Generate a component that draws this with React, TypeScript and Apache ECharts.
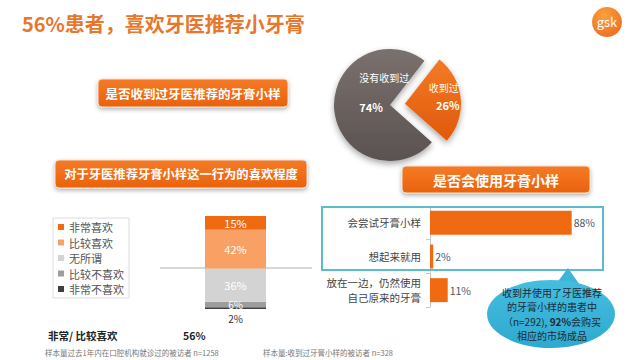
import React, { useEffect, useRef } from 'react';
import * as echarts from 'echarts';

const FONT = '"Noto Sans CJK SC", "Noto Sans", sans-serif';

const titleText = '56%患者，喜欢牙医推荐小牙膏';

const pieNames = ['收到过', '没有收到过'];
const pieValues = [26, 74];

const likeNames = ['非常喜欢', '比较喜欢', '无所谓', '比较不喜欢', '非常不喜欢'];
const likeValues = [15, 42, 36, 6, 2];
const likeColors = ['#f06a12', '#f9a064', '#d3d3d3', '#9d9d9d', '#3f3f3f'];
const likeCategory = ['喜欢程度'];

const useCategories = ['会尝试牙膏小样', '想起来就用', '放在一边，仍然使用\n自己原来的牙膏'];
const useValues = [88, 2, 11];

const summaryLabel = '非常/ 比较喜欢';
const summaryValue = '56%';

const button1 = '是否收到过牙医推荐的牙膏小样';
const button2 = '对于牙医推荐牙膏小样这一行为的喜欢程度';
const button3 = '是否会使用牙膏小样';

const footLeft = '样本量过去1年内在口腔机构就诊过的被访者 n=1258';
const footRight = '样本量:收到过牙膏小样的被访者 n=328';

const calloutLines = ['收到并使用了牙医推荐', '的牙膏小样的患者中', '{a|（n=292), }{b|92%}{a|会购买}', '相应的市场成品'];

const ORANGE = '#f06a12';

function button(x: number, y: number, w: number, h: number, text: string, fs: number) {
  return [
    {
      type: 'rect',
      shape: { x, y, width: w, height: h, r: 4 },
      style: {
        fill: new echarts.graphic.LinearGradient(0, 0, 0, 1, [
          { offset: 0, color: '#f57a26' },
          { offset: 1, color: '#ea620c' },
        ]),
        stroke: '#f3e3d6',
        lineWidth: 1,
        shadowBlur: 4,
        shadowOffsetY: 2,
        shadowColor: 'rgba(0,0,0,0.3)',
      },
      z: 5,
    },
    {
      type: 'text',
      x: x + w / 2,
      y: y + h / 2,
      style: {
        text,
        fill: '#fff',
        font: `bold ${fs}px ${FONT}`,
        align: 'center',
        verticalAlign: 'middle',
      },
      z: 6,
    },
  ];
}

export default function App() {
  const ref = useRef<HTMLDivElement>(null);

  useEffect(() => {
    if (!ref.current) return;
    const chart = echarts.init(ref.current, null, { renderer: 'svg' });

    const pieLabelShift: Record<number, [number, number]> = { 0: [10, -4.5], 1: [18.5, -15.5] };

    const pieData = pieNames.map((name, i) => {
      const isOrange = i === 0;
      return {
        name,
        value: pieValues[i],
        selected: isOrange,
        itemStyle: {
          color: isOrange
            ? new echarts.graphic.LinearGradient(0, 0, 0, 1, [
                { offset: 0, color: '#f47a25' },
                { offset: 1, color: '#e0590c' },
              ])
            : new echarts.graphic.LinearGradient(0, 0, 0, 1, [
                { offset: 0, color: '#7a716e' },
                { offset: 1, color: '#5a5250' },
              ]),
          shadowBlur: 6,
          shadowOffsetY: 3,
          shadowColor: 'rgba(0,0,0,0.35)',
        },
        label: {
          show: true,
          position: 'inside',
          formatter: '{n|{b}}\n{v|{c}%}',
          rich: isOrange
            ? {
                n: { fontSize: 10, color: '#fff', fontFamily: FONT, lineHeight: 18, padding: [0, 4, 0, 0] },
                v: { fontSize: 11, color: '#fff', fontWeight: 'bold', fontFamily: FONT, lineHeight: 18, padding: [0, 0, 0, 4] },
              }
            : {
                n: { fontSize: 10, color: '#fff', fontFamily: FONT, lineHeight: 30, padding: [0, 0, 0, 13] },
                v: { fontSize: 11, color: '#fff', fontWeight: 'bold', fontFamily: FONT, lineHeight: 30, padding: [0, 13, 0, 0] },
              },
        },
      };
    });

    const stackSeries = likeNames
      .map((name, i) => ({
        name,
        type: 'bar',
        stack: 'like',
        xAxisIndex: 0,
        yAxisIndex: 0,
        barWidth: '100%',
        data: [likeValues[i]],
        itemStyle: { color: likeColors[i] },
        label: {
          show: true,
          position: likeValues[i] < 4 ? 'bottom' : 'inside',
          distance: likeValues[i] < 4 ? 4 : 0,
          formatter: '{c}%',
          fontSize: likeValues[i] < 10 ? 10 : 11,
          fontFamily: FONT,
          color: likeValues[i] < 4 ? '#333' : '#fff',
        },
      }))
      .reverse();

    const calloutGraphics = calloutLines.map((line, i) => ({
      type: 'text',
      x: 552,
      y: 292 + i * 14.5,
      z: 11,
      style: line.startsWith('{')
        ? {
            text: line,
            align: 'center',
            verticalAlign: 'middle',
            rich: {
              a: { fontSize: 10, fill: '#1c2a33', fontFamily: FONT },
              b: { fontSize: 10, fill: '#1c2a33', fontWeight: 'bold', fontFamily: FONT },
            },
          }
        : {
            text: line,
            align: 'center',
            verticalAlign: 'middle',
            fill: '#1c2a33',
            font: `10px ${FONT}`,
          },
    }));

    const option: any = {
      animation: false,
      backgroundColor: '#ffffff',
      textStyle: { fontFamily: FONT },
      legend: {
        data: likeNames,
        orient: 'vertical',
        left: 53,
        top: 218,
        itemWidth: 6,
        itemHeight: 6,
        itemGap: 3.5,
        icon: 'rect',
        padding: [3, 5, 3, 5],
        borderColor: '#dcdcdc',
        borderWidth: 1,
        selectedMode: false,
        textStyle: { fontSize: 11, color: '#555', fontFamily: FONT, lineHeight: 12 },
      },
      grid: [
        { left: 205, top: 216, width: 61, height: 93 },
        { left: 430, top: 206, width: 161, height: 101 },
      ],
      xAxis: [
        { type: 'category', gridIndex: 0, data: likeCategory, show: false },
        { type: 'value', gridIndex: 1, min: 0, max: 100, show: false },
      ],
      yAxis: [
        { type: 'value', gridIndex: 0, min: 0, max: 101, show: false },
        {
          type: 'category',
          gridIndex: 1,
          inverse: true,
          data: useCategories,
          axisLine: { show: true, lineStyle: { color: '#c8c8c8' } },
          axisTick: { show: true, length: 4, lineStyle: { color: '#c8c8c8' } },
          axisLabel: { fontSize: 10.5, color: '#444', margin: 9, lineHeight: 15, fontFamily: FONT },
        },
      ],
      series: [
        {
          type: 'pie',
          center: [390, 105],
          radius: [0, 56],
          startAngle: 52,
          clockwise: true,
          selectedMode: 'single',
          selectedOffset: 15,
          silent: true,
          labelLine: { show: false },
          labelLayout: (params: any) => {
            const s = pieLabelShift[params.dataIndex] || [0, 0];
            return { dx: s[0], dy: s[1] };
          },
          data: pieData,
        },
        ...stackSeries,
        {
          name: '使用',
          type: 'bar',
          xAxisIndex: 1,
          yAxisIndex: 1,
          barWidth: 24,
          data: useValues,
          itemStyle: { color: ORANGE },
          label: {
            show: true,
            position: 'right',
            distance: 2,
            formatter: '{c}%',
            fontSize: 10.5,
            color: '#555',
            fontFamily: FONT,
          },
        },
      ],
      graphic: [
        {
          type: 'text',
          x: 22,
          y: 23,
          style: {
            text: titleText,
            fill: '#e8762b',
            font: `bold 20px ${FONT}`,
            verticalAlign: 'middle',
          },
        },
        {
          type: 'line',
          shape: { x1: 22, y1: 46, x2: 500, y2: 46 },
          style: {
            stroke: new echarts.graphic.LinearGradient(0, 0, 1, 0, [
              { offset: 0, color: '#e2c09c' },
              { offset: 1, color: '#efe2d2' },
            ]),
            lineWidth: 1,
          },
        },
        {
          type: 'circle',
          shape: { cx: 607, cy: 22, r: 15 },
          style: {
            fill: new echarts.graphic.RadialGradient(0.4, 0.3, 0.8, [
              { offset: 0, color: '#f9a23c' },
              { offset: 1, color: '#ee6a1e' },
            ]),
          },
        },
        {
          type: 'text',
          x: 607,
          y: 21,
          style: { text: 'gsk', fill: '#fff', font: `13px ${FONT}`, align: 'center', verticalAlign: 'middle' },
        },
        ...button(98, 79, 190, 28, button1, 12.5),
        ...button(55, 160, 252, 28, button2, 12.3),
        ...button(402, 166, 188, 27, button3, 14),
        {
          type: 'line',
          shape: { x1: 160, y1: 268, x2: 312, y2: 268 },
          style: { stroke: '#b0b0b0', lineWidth: 1 },
        },
        {
          type: 'text',
          x: 48,
          y: 335,
          style: { text: summaryLabel, fill: '#222', font: `bold 10.5px ${FONT}`, verticalAlign: 'middle' },
        },
        {
          type: 'text',
          x: 183,
          y: 335,
          style: { text: summaryValue, fill: '#222', font: `bold 10.5px ${FONT}`, verticalAlign: 'middle' },
        },
        {
          type: 'text',
          x: 45,
          y: 352,
          style: { text: footLeft, fill: '#777', font: `7.5px ${FONT}`, verticalAlign: 'middle' },
        },
        {
          type: 'text',
          x: 263,
          y: 352,
          style: { text: footRight, fill: '#777', font: `7.5px ${FONT}`, verticalAlign: 'middle' },
        },
        {
          type: 'rect',
          shape: { x: 322, y: 207, width: 281, height: 63 },
          style: { fill: 'none', stroke: '#5bbccc', lineWidth: 2 },
          z: 3,
        },
        {
          type: 'polygon',
          shape: { points: [[553, 288], [568, 268], [582, 288]] },
          style: { fill: '#3bb5d8' },
          z: 10,
        },
        {
          type: 'ellipse',
          shape: { cx: 551, cy: 314, rx: 64, ry: 34 },
          style: {
            fill: new echarts.graphic.LinearGradient(0, 0, 0, 1, [
              { offset: 0, color: '#45bde0' },
              { offset: 1, color: '#2fa9cf' },
            ]),
          },
          z: 10,
        },
        ...calloutGraphics,
      ],
    };

    chart.setOption(option);
    return () => chart.dispose();
  }, []);

  return (
    <div
      ref={ref}
      style={{ position: 'fixed', left: 0, top: 0, width: 640, height: 360, background: '#fff' }}
    />
  );
}
